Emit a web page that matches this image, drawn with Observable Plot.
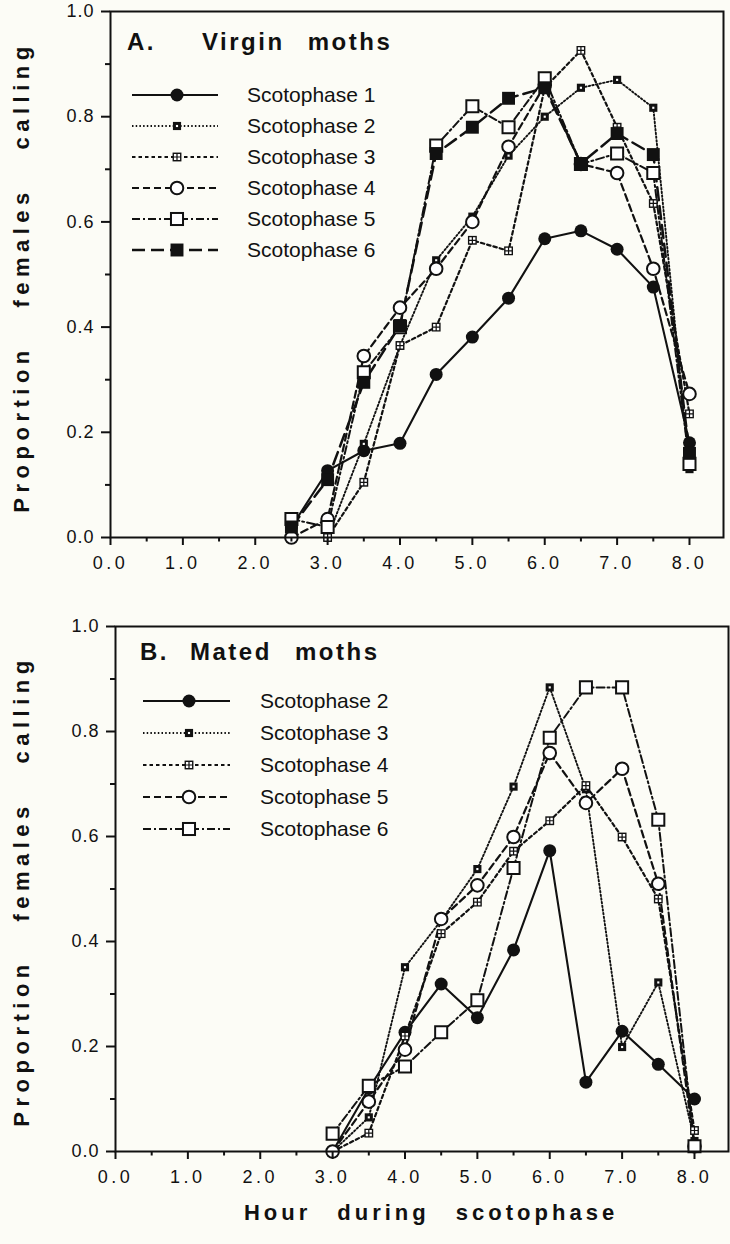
<!DOCTYPE html>
<html><head><meta charset="utf-8">
<script src="https://cdn.jsdelivr.net/npm/d3@7"></script>
<script src="https://cdn.jsdelivr.net/npm/@observablehq/plot@0.6"></script>
<style>
html,body{margin:0;padding:0;background:#fcfcf6;}
#root{position:relative;width:730px;height:1244px;overflow:hidden;font-family:"Liberation Sans",Arial,Helvetica,sans-serif;color:#111;}
.panel{position:absolute;left:0;}
.ttl{position:absolute;font-weight:bold;font-size:24px;line-height:24px;letter-spacing:2.5px;word-spacing:14px;white-space:pre;}
.legtxt{position:absolute;font-size:21px;line-height:22px;white-space:nowrap;}
.sw{position:absolute;}
.ylab{position:absolute;font-weight:bold;font-size:22px;letter-spacing:5.5px;word-spacing:26px;white-space:nowrap;transform:translate(-50%,-50%) rotate(-90deg);}
.xlab{position:absolute;font-weight:bold;font-size:22px;letter-spacing:4px;word-spacing:16px;white-space:nowrap;transform:translate(-50%,-50%);}
.pp [aria-label="x-axis tick label"] text{letter-spacing:3.5px;}
.pp [aria-label="y-axis tick label"] text{letter-spacing:1px;}
</style>
</head><body><div id="root"></div>
<script>
// ---------- data ----------
const xTicksMajor = [0, 1, 2, 3, 4, 5, 6, 7, 8];
const xTickLabels = ["0.0", "1.0", "2.0", "3.0", "4.0", "5.0", "6.0", "7.0", "8.0"];
const xTicksMinor = [0.5, 1.5, 2.5, 3.5, 4.5, 5.5, 6.5, 7.5];
const yTicksMajor = [0, 0.2, 0.4, 0.6, 0.8, 1.0];
const yTickLabels = ["0.0", "0.2", "0.4", "0.6", "0.8", "1.0"];
const yTicksMinor = [0.1, 0.3, 0.5, 0.7, 0.9];

// Panel A: virgin moths
const hoursA = [2.5, 3.0, 3.5, 4.0, 4.5, 5.0, 5.5, 6.0, 6.5, 7.0, 7.5, 8.0];
const virginS1 = [0.02, 0.127, 0.165, 0.179, 0.31, 0.381, 0.455, 0.568, 0.583, 0.548, 0.476, 0.18];
const virginS2 = [null, 0.0, 0.178, 0.365, 0.527, 0.61, 0.726, 0.80, 0.855, 0.87, 0.817, 0.13];
const virginS3 = [null, 0.0, 0.105, 0.365, 0.40, 0.565, 0.545, 0.855, 0.926, 0.78, 0.635, 0.235];
const virginS4 = [0.0, 0.035, 0.345, 0.437, 0.511, 0.60, 0.743, 0.86, 0.71, 0.693, 0.511, 0.273];
const virginS5 = [0.035, 0.02, 0.314, 0.40, 0.745, 0.82, 0.78, 0.873, 0.71, 0.73, 0.693, 0.14];
const virginS6 = [0.02, 0.11, 0.295, 0.403, 0.73, 0.78, 0.835, 0.855, 0.711, 0.768, 0.728, 0.16];
const virginLabels = ["Scotophase 1", "Scotophase 2", "Scotophase 3", "Scotophase 4", "Scotophase 5", "Scotophase 6"];
const virginTitle = ["A.", "Virgin moths"];

// Panel B: mated moths
const hoursB = [3.0, 3.5, 4.0, 4.5, 5.0, 5.5, 6.0, 6.5, 7.0, 7.5, 8.0];
const matedS2 = [0.0, 0.12, 0.227, 0.319, 0.255, 0.384, 0.573, 0.132, 0.229, 0.166, 0.10];
const matedS3 = [0.0, 0.065, 0.351, 0.44, 0.538, 0.695, 0.884, 0.69, 0.199, 0.322, 0.02];
const matedS4 = [0.0, 0.035, 0.22, 0.415, 0.475, 0.572, 0.63, 0.697, 0.599, 0.481, 0.04];
const matedS5 = [0.0, 0.095, 0.194, 0.443, 0.507, 0.599, 0.759, 0.664, 0.729, 0.51, 0.01];
const matedS6 = [0.034, 0.125, 0.162, 0.227, 0.288, 0.54, 0.788, 0.884, 0.884, 0.632, 0.01];
const matedLabels = ["Scotophase 2", "Scotophase 3", "Scotophase 4", "Scotophase 5", "Scotophase 6"];
const matedTitle = ["B.", "Mated moths"];

const yAxisTitle = "Proportion females calling";
const xAxisTitle = "Hour during scotophase";

// ---------- styles ----------
const STYLES = [
  {dash: null, sw: 2.1, marker: "filledCircle"},
  {dash: "1.5,2.2", sw: 1.9, marker: "dotSquare"},
  {dash: "3.5,3", sw: 2.2, marker: "checker"},
  {dash: "7,4", sw: 2.2, marker: "openCircle"},
  {dash: "8,3,2,3", sw: 2, marker: "openSquare"},
  {dash: "13,6", sw: 2.5, marker: "filledSquare"}
];
const stylesA = [0, 1, 2, 3, 4, 5];
const stylesB = [0, 1, 2, 3, 4];

const windowsSymbol = {
  draw(ctx, size) {
    const h = Math.sqrt(size) / 2;
    const w = h * 0.55, g = h * 0.14;
    ctx.rect(-g - w, -g - w, w, w);
    ctx.rect(g, -g - w, w, w);
    ctx.rect(-g - w, g, w, w);
    ctx.rect(g, g, w, w);
  }
};

function markerMarks(data, kind) {
  const o = {x: "hour", y: "value"};
  switch (kind) {
    case "filledCircle": return [Plot.dot(data, {...o, r: 6.5, fill: "#111", stroke: "none"})];
    case "openCircle": return [Plot.dot(data, {...o, r: 6.3, fill: "white", stroke: "#111", strokeWidth: 2})];
    case "openSquare": return [Plot.dot(data, {...o, symbol: "square", r: 6.8, fill: "white", stroke: "#111", strokeWidth: 2})];
    case "filledSquare": return [Plot.dot(data, {...o, symbol: "square", r: 7.3, fill: "#111", stroke: "none"})];
    case "dotSquare": return [
      Plot.dot(data, {...o, symbol: "square", r: 4.6, fill: "#111", stroke: "none"}),
      Plot.dot(data, {...o, symbol: "square", r: 1.2, fill: "white", stroke: "none"})];
    case "checker": return [
      Plot.dot(data, {...o, symbol: "square", r: 5, fill: "#111", stroke: "none"}),
      Plot.dot(data, {...o, symbol: windowsSymbol, r: 5, fill: "white", stroke: "none"})];
  }
}

function drawSwatchMarker(g, kind, cx, cy) {
  const sq = r => r * Math.sqrt(Math.PI);
  const rect = (r, fill, stroke, sw) => g.append("rect").attr("x", cx - sq(r) / 2).attr("y", cy - sq(r) / 2)
    .attr("width", sq(r)).attr("height", sq(r)).attr("fill", fill).attr("stroke", stroke).attr("stroke-width", sw || 0);
  switch (kind) {
    case "filledCircle": g.append("circle").attr("cx", cx).attr("cy", cy).attr("r", 6.5).attr("fill", "#111"); break;
    case "openCircle": g.append("circle").attr("cx", cx).attr("cy", cy).attr("r", 6.3).attr("fill", "white").attr("stroke", "#111").attr("stroke-width", 2); break;
    case "openSquare": rect(6.8, "white", "#111", 2); break;
    case "filledSquare": rect(7.3, "#111", "none"); break;
    case "dotSquare": rect(4.6, "#111", "none"); rect(1.2, "white", "none"); break;
    case "checker": {
      rect(5, "#111", "none");
      const p = d3.path();
      windowsSymbol.draw(p, 5 * 5 * Math.PI);
      g.append("path").attr("d", p.toString()).attr("transform", `translate(${cx},${cy})`).attr("fill", "white");
      break;
    }
  }
}

function buildPanel({hours, series, styles, marginLeft, marginRight, marginTop, marginBottom, height}) {
  const marks = [];
  const datasets = series.map((vals, i) => hours.map((h, j) => ({hour: h, value: vals[j], s: i})).filter(d => d.value != null));
  datasets.forEach((data, i) => {
    const st = STYLES[styles[i]];
    marks.push(Plot.line(data, {x: "hour", y: "value", stroke: "#111", strokeWidth: st.sw, strokeDasharray: st.dash || undefined}));
  });
  datasets.forEach((data, i) => {
    marks.push(...markerMarks(data, STYLES[styles[i]].marker));
  });
  marks.push(
    Plot.axisX({ticks: xTicksMajor, tickSize: 8, tickPadding: 11, tickFormat: d => xTickLabels[xTicksMajor.indexOf(d)], fontSize: 18, strokeWidth: 2, label: null}),
    Plot.axisX({ticks: xTicksMinor, tickSize: 4.5, tickFormat: () => "", strokeWidth: 2, label: null}),
    Plot.axisY({ticks: yTicksMajor, tickSize: 9, tickPadding: 7, tickFormat: d => yTickLabels[yTicksMajor.findIndex(t => Math.abs(t - d) < 1e-9)], fontSize: 18, strokeWidth: 2, label: null}),
    Plot.axisY({ticks: yTicksMinor, tickSize: 5, tickFormat: () => "", strokeWidth: 2, label: null}),
    Plot.frame({stroke: "#111", strokeWidth: 2})
  );
  return Plot.plot({
    width: 730, height, marginLeft, marginRight, marginTop, marginBottom,
    className: "pp",
    x: {domain: [0, 8.47]},
    y: {domain: [0, 1]},
    style: {background: "transparent", fontFamily: "'Liberation Sans', Arial, sans-serif", color: "#111", overflow: "visible"},
    marks
  });
}

const root = d3.select("#root");

function addPanel(top, cfg, labels, title, layout) {
  const svg = buildPanel(cfg);
  const wrap = root.append("div").attr("class", "panel").style("top", top + "px");
  wrap.node().appendChild(svg);
  root.append("div").attr("class", "ttl").style("left", layout.titleX[0] + "px").style("top", layout.titleY + "px").text(title[0]);
  root.append("div").attr("class", "ttl").style("left", layout.titleX[1] + "px").style("top", layout.titleY + "px").text(title[1]);
  labels.forEach((lab, i) => {
    const st = STYLES[cfg.styles[i]];
    const cy = layout.legY0 + i * layout.legDy;
    const s = root.append("svg").attr("class", "sw").attr("width", layout.swW + 2).attr("height", 22)
      .style("left", (layout.swX - 1) + "px").style("top", (cy - 11) + "px");
    s.append("line").attr("x1", 1).attr("x2", layout.swW + 1).attr("y1", 11).attr("y2", 11)
      .attr("stroke", "#111").attr("stroke-width", st.sw).attr("stroke-dasharray", st.dash);
    drawSwatchMarker(s, st.marker, layout.swM - layout.swX + 1, 11);
    root.append("div").attr("class", "legtxt").style("left", layout.txtX + "px").style("top", (cy - 11) + "px").text(lab);
  });
  root.append("div").attr("class", "ylab").style("left", "22px").style("top", layout.yLabY + "px").text(yAxisTitle);
}

addPanel(0,
  {hours: hoursA, series: [virginS1, virginS2, virginS3, virginS4, virginS5, virginS6], styles: stylesA,
   marginLeft: 110, marginRight: 7, marginTop: 11, marginBottom: 38, height: 575},
  virginLabels, virginTitle,
  {titleX: [127, 202], titleY: 30, legY0: 95, legDy: 31, swX: 132, swW: 86, swM: 177, txtX: 247, yLabY: 277});

addPanel(575,
  {hours: hoursB, series: [matedS2, matedS3, matedS4, matedS5, matedS6], styles: stylesB,
   marginLeft: 115, marginRight: 2, marginTop: 51, marginBottom: 40, height: 616},
  matedLabels, matedTitle,
  {titleX: [140, 190], titleY: 640, legY0: 701, legDy: 32, swX: 143, swW: 87, swM: 189, txtX: 260, yLabY: 891});

root.append("div").attr("class", "xlab").style("left", "431px").style("top", "1213px").text(xAxisTitle);
</script>
</body></html>
